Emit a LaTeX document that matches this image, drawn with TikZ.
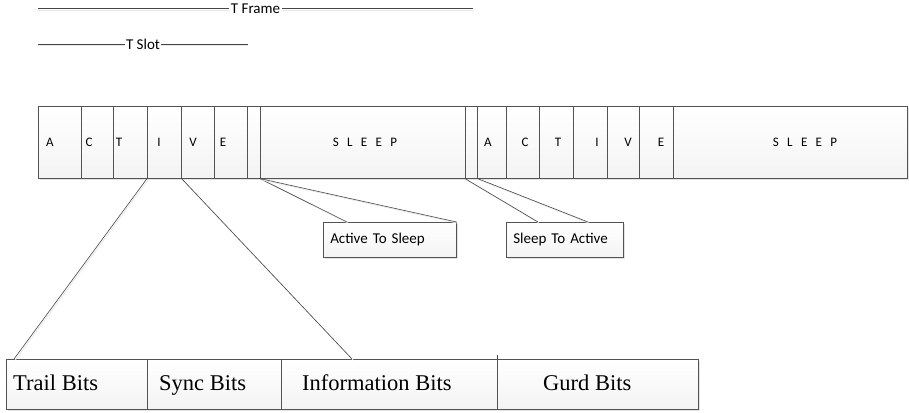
\documentclass[tikz,border=0pt]{standalone}
\usepackage{fontspec}
\setmainfont{Liberation Serif}
\newfontfamily\uifont{Carlito}
\usetikzlibrary{calc,shadows}

\begin{document}
\begin{tikzpicture}[x=1pt,y=-1pt,
  box/.style={draw=gray!65!black, line width=0.6pt, top color=white, bottom color=gray!9,
    drop shadow={opacity=0.22, shadow xshift=1.3pt, shadow yshift=-1.3pt},
    inner sep=0pt, anchor=north west},
  slot/.style={box, minimum height=72pt},
  bitfield/.style={box, minimum height=50pt},
  letter/.style={font=\uifont\fontsize{13}{15}\selectfont, anchor=base, inner sep=0pt},
  bitlabel/.style={font=\fontsize{22.5}{26}\selectfont, anchor=base west, inner sep=0pt},
  note/.style={box, minimum width=#1, minimum height=35pt, font=\uifont\fontsize{15}{18}\selectfont,
    text width=#1-14pt, inner xsep=7pt, align=left},
  link/.style={draw=gray!55!black, line width=0.6pt,
    preaction={draw=gray!18, line width=0.8pt, transform canvas={xshift=1.2pt,yshift=-1.2pt}}},
  span/.style={draw=gray!55!black, line width=0.6pt,
    preaction={draw=gray!18, line width=0.8pt, transform canvas={yshift=-1.5pt}}},
  spanlabel/.style={fill=white, inner sep=1.5pt, font=\uifont\fontsize{15}{18}\selectfont}
]
\useasboundingbox (0,0) rectangle (909,412);

% time spans
\coordinate (tf1) at (38,8.5);
\coordinate (tf2) at (473,8.5);
\draw[span] (tf1) -- node[spanlabel] (tframe) {T Frame} (tf2);
\coordinate (ts1) at (38,44);
\coordinate (ts2) at (248,44);
\draw[span] (ts1) -- node[spanlabel] (tslot) {T Slot} (ts2);

% frame: active slots, guard gaps and sleep periods
\foreach \nm/\xa/\xb in {a1/38/81, c1/81/113, t1/113/147, i1/147/181, v1/181/214, e1/214/247,
    g1/247/260, s1/260/465, g2/465/477, a2/477/506, c2/506/539, t2/539/573, i2/573/607,
    v2/607/639, e2/639/673, s2/673/907}
  \node[slot, minimum width={(\xb-\xa)*1pt}] (\nm) at (\xa,106) {};

\foreach \nm/\x/\t in {la1/50/A, lc1/89/C, lt1/119/T, li1/159/I, lv1/193/V, le1/223/E,
    la2/488/A, lc2/525/C, lt2/558/T, li2/597/I, lv2/628/V, le2/661/E}
  \node[letter] (\nm) at (\x,146.5) {\t};
\node[letter] (sleep1) at (365,146.5) {S\kern8.3pt L\kern8.3pt E\kern8.3pt E\kern8.3pt P};
\node[letter] (sleep2) at (805,146.5) {S\kern8.3pt L\kern8.3pt E\kern8.3pt E\kern8.3pt P};

% transition notes
\node[note=133pt] (ats) at (323,222) {Active To Sleep};
\node[note=117pt] (sta) at (506,222) {Sleep To Active};
\draw[link] (s1.south west) -- ($(ats.north west)+(24,0)$);
\draw[link] (s1.south west) -- (ats.north east);
\draw[link] (g2.south west) -- ($(sta.north west)+(32,0)$);
\draw[link] (g2.south east) -- ($(sta.north west)+(82,0)$);

% slot structure
\node[bitfield, minimum width=141pt] (trail) at (6,359) {};
\node[bitfield, minimum width=134pt] (sync) at (147,359) {};
\node[bitfield, minimum width=216pt] (info) at (281,359) {};
\node[bitfield, minimum width=201pt] (gurd) at (497,359) {};
\draw[draw=gray!55!black, line width=0.6pt] (gurd.north west) -- ++(0,-4);
\node[bitlabel] (ltrail) at (13,390) {Trail Bits};
\node[bitlabel] (lsync) at (159,390) {Sync Bits};
\node[bitlabel] (linfo) at (302,390) {Information Bits};
\node[bitlabel] (lgurd) at (543,390) {Gurd Bits};

\draw[link] (i1.south west) -- ($(trail.north west)+(8,0)$);
\draw[link] (i1.south east) -- ($(info.north west)+(71,0)$);
\end{tikzpicture}
\end{document}
